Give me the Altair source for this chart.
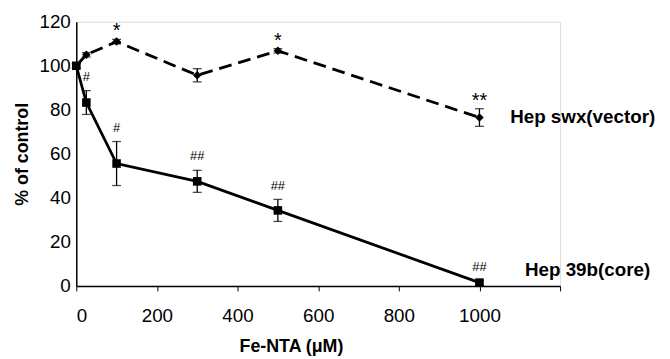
import altair as alt
import pandas as pd

# Data
conc = [0, 25, 100, 300, 500, 1000]
vector_mean = [100, 105, 111, 95.7, 106.8, 76.5]
vector_err = [1, 1, 1, 3, 1, 4]
core_mean = [100, 83.3, 55.6, 47.5, 34.3, 1.5]
core_err = [1, 5.4, 10, 5, 5, 1]
vector_marks = ["", "", "*", "", "*", "**"]
core_marks = ["", "#", "#", "##", "##", "##"]
series_names = ["Hep swx(vector)", "Hep 39b(core)"]
x_ticks = [0, 200, 400, 600, 800, 1000, 1200]
y_ticks = [0, 20, 40, 60, 80, 100, 120]

rows = []
for i, c in enumerate(conc):
    rows.append(dict(series=series_names[0], x=c, y=vector_mean[i],
                     lo=vector_mean[i] - vector_err[i], hi=vector_mean[i] + vector_err[i],
                     mark=vector_marks[i]))
    rows.append(dict(series=series_names[1], x=c, y=core_mean[i],
                     lo=core_mean[i] - core_err[i], hi=core_mean[i] + core_err[i],
                     mark=core_marks[i]))
df = pd.DataFrame(rows)
vec = df[df.series == series_names[0]]
core = df[df.series == series_names[1]]

FONT = "Liberation Sans"
XT = "Fe-NTA (μM)"
YT = "% of control"
xs = alt.Scale(domain=[0, 1200], nice=False)
ys = alt.Scale(domain=[0, 120], nice=False)

xaxis = alt.Axis(
    values=x_ticks, format="d", labelExpr="datum.value == 1200 ? '' : datum.label",
    grid=False, tickSize=5, labelPadding=16,
    labelFontSize=19, labelFont=FONT, labelColor="black", titleFont=FONT,
    titleFontSize=18, titleFontWeight="bold", titleColor="black",
    titleX=217, titleY=52, domainColor="black", domainWidth=1.5, tickColor="black")
yaxis = alt.Axis(
    values=y_ticks, grid=False, ticks=False, labelPadding=6,
    labelFontSize=19, labelFont=FONT, labelColor="black", titleFont=FONT,
    titleFontSize=18, titleFontWeight="bold", titleColor="black", titlePadding=8,
    domainColor="black", domainWidth=1.5)

X = alt.X("x:Q", scale=xs, axis=xaxis, title=XT)


def Yf(field):
    return alt.Y(field, scale=ys, axis=yaxis, title=YT)


line_vec = alt.Chart(vec).mark_line(color="black", strokeWidth=2.8, strokeDash=[13, 7]).encode(x=X, y=Yf("y:Q"))
pts_vec = alt.Chart(vec).mark_point(shape="diamond", filled=True, color="black", size=75, opacity=1).encode(x=X, y=Yf("y:Q"))
line_core = alt.Chart(core).mark_line(color="black", strokeWidth=2.8).encode(x=X, y=Yf("y:Q"))
pts_core = alt.Chart(core).mark_point(shape="square", filled=True, color="black", size=75, opacity=1).encode(x=X, y=Yf("y:Q"))

err = alt.Chart(df).mark_errorbar(ticks=alt.MarkConfig(size=9, color="black"), color="black", thickness=1.3).encode(
    x=X, y=Yf("lo:Q"), y2="hi:Q")

ann_vec = alt.Chart(vec).mark_text(font=FONT, fontSize=20, color="black", dy=-8, baseline="middle").encode(
    x=X, y=Yf("hi:Q"), text="mark:N")
ann_core = alt.Chart(core).mark_text(font=FONT, fontSize=13, color="black", dy=-14, baseline="middle").encode(
    x=X, y=Yf("hi:Q"), text="mark:N")

lab_vec = alt.Chart(vec[vec.x == 1000]).mark_text(font=FONT, fontSize=19, fontWeight="bold", align="left",
                                                   baseline="middle", dx=31, color="black").encode(
    x=X, y=Yf("y:Q"), text="series:N")
lab_core = alt.Chart(core[core.x == 1000]).mark_text(font=FONT, fontSize=19, fontWeight="bold", align="left",
                                                     baseline="middle", dx=46, dy=-13, color="black").encode(
    x=X, y=Yf("y:Q"), text="series:N")

chart = alt.layer(line_vec, line_core, err, pts_vec, pts_core, ann_vec, ann_core, lab_vec, lab_core).properties(
    width=489, height=267,
    autosize=alt.AutoSizeParams(type="none"),
    padding={"left": 69, "top": 12, "right": 103, "bottom": 76},
).configure_view(stroke=None).configure(background="white")

chart.save("out.html", embed_options={"renderer": "svg", "actions": False})
